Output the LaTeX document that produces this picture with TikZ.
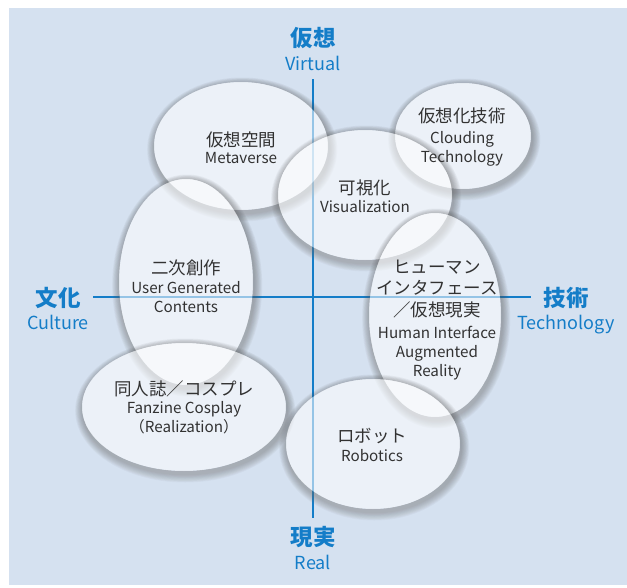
\documentclass[tikz,border=0pt]{standalone}
\usepackage{fontspec}
\setmainfont{Noto Sans CJK JP}
\newfontfamily\jp{Noto Sans CJK JP}
\definecolor{bgblue}{RGB}{213,225,240}
\definecolor{axisblue}{RGB}{20,125,200}
\definecolor{ink}{RGB}{50,50,50}
\definecolor{shade}{RGB}{80,100,130}
\tikzset{
  axislabel/.style={text=axisblue, inner sep=0pt, anchor=base},
  jpbig/.style={font=\jp\bfseries\fontsize{22.5}{24}\selectfont},
  enbig/.style={font=\jp\fontsize{18}{20}\selectfont},
  jline/.style={text=ink, inner sep=0pt, anchor=base, font=\jp\fontsize{17.5}{20}\selectfont},
  eline/.style={text=ink, inner sep=0pt, anchor=base, font=\jp\fontsize{15.2}{20}\selectfont},
  axisline/.style={draw=axisblue, line width=1.2pt},
}
% one translucent bubble with a soft shadow outside its rim
\newcommand\bubble[4]{%
  \begin{scope}[even odd rule]
    \clip (-20,-20) rectangle (700,700) (#1,#2) ellipse [x radius=#3, y radius=#4];
    \foreach \k in {1,...,10}
      \fill[shade, opacity=0.026] (#1+1.2,#2+3.5) ellipse [x radius=#3+\k*0.8, y radius=#4+\k*0.8];
  \end{scope}
  \fill[white, opacity=0.55] (#1,#2) ellipse [x radius=#3, y radius=#4];
}
\begin{document}
\begin{tikzpicture}[x=1pt, y=-1pt]
  \useasboundingbox (0,0) rectangle (627,587);
  \fill[white] (0,0) rectangle (627,587);
  \fill[bgblue] (9,8) rectangle (627,585);

  % axes
  \coordinate (top) at (313,79);
  \coordinate (bottom) at (313,518);
  \coordinate (left) at (93,297);
  \coordinate (right) at (531,297);
  \draw[axisline] (top) -- (bottom);
  \draw[axisline] (left) -- (right);

  % axis labels
  \node[axislabel, jpbig] (virtJ) at (313,46) {仮想};
  \node[axislabel, enbig] (virtE) at (313,70) {Virtual};
  \node[axislabel, jpbig] (realJ) at (313,545) {現実};
  \node[axislabel, enbig] (realE) at (313,569) {Real};
  \node[axislabel, jpbig] (cultJ) at (58,306) {文化};
  \node[axislabel, enbig] (cultE) at (58,329) {Culture};
  \node[axislabel, jpbig] (techJ) at (566,306) {技術};
  \node[axislabel, enbig] (techE) at (566,329) {Technology};

  % bubbles
  \bubble{241}{146}{87}{64}
  \bubble{463}{136}{68}{53}
  \bubble{365}{195}{87}{65}
  \bubble{186}{282}{67}{103}
  \bubble{435}{315}{66}{102}
  \bubble{184}{407}{102}{64}
  \bubble{373}{444}{87}{65}

  % bubble texts
  \node[jline] (metaJ) at (241,146) {仮想空間};
  \node[eline] (metaE) at (241,163) {Metaverse};

  \node[jline] (cloudJ) at (462,122) {仮想化技術};
  \node[eline] (cloudE1) at (462,143) {Clouding};
  \node[eline] (cloudE2) at (462,162) {Technology};

  \node[jline] (visuJ) at (365,194) {可視化};
  \node[eline] (visuE) at (365,212) {Visualization};

  \node[jline] (ugcJ) at (186,274) {二次創作};
  \node[eline] (ugcE1) at (186,293) {User Generated};
  \node[eline] (ugcE2) at (186,312) {Contents};

  \node[jline] (hiJ1) at (437,273) {ヒューマン};
  \node[jline] (hiJ2) at (437,294) {インタフェース};
  \node[jline] (hiJ3) at (437,316) {／仮想現実};
  \node[eline] (hiE1) at (437,338) {Human Interface};
  \node[eline] (hiE2) at (437,357) {Augmented};
  \node[eline] (hiE3) at (437,376) {Reality};

  \node[jline] (fanJ) at (184,395) {同人誌／コスプレ};
  \node[eline] (fanE1) at (184,413) {Fanzine Cosplay};
  \node[eline] (fanE2) at (184,432) {（Realization）};

  \node[jline] (roboJ) at (372,442) {ロボット};
  \node[eline] (roboE) at (372,461) {Robotics};
\end{tikzpicture}
\end{document}
